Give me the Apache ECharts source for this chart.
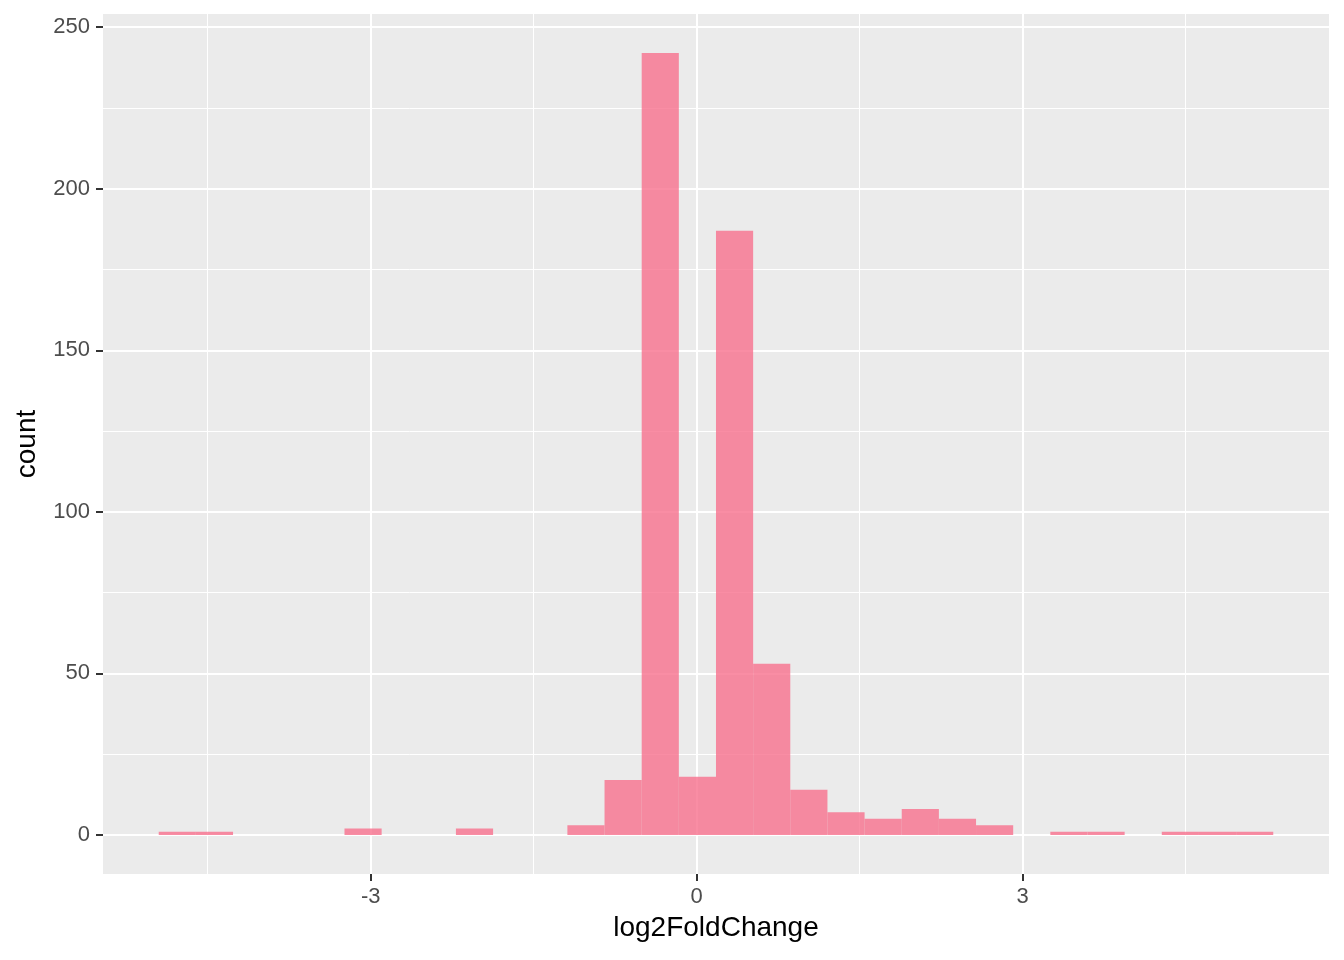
<!DOCTYPE html>
<html>
<head>
<meta charset="utf-8">
<script src="https://cdn.jsdelivr.net/npm/echarts@6/dist/echarts.min.js"></script>
<style>html,body{margin:0;padding:0;background:#fff}#c{width:1344px;height:960px}</style>
</head>
<body>
<div id="c"></div>
<script>
// Histogram of log2FoldChange, 30 bins
const binStart = -4.951;
const binWidth = 0.34196;
const counts = [1, 1, 0, 0, 0, 2, 0, 0, 2, 0, 0, 3, 17, 242, 18, 187, 53, 14, 7, 5, 8, 5, 3, 0, 1, 1, 0, 1, 1, 1];
const xMajorTicks = [-3, 0, 3];
const xMinorTicks = [-4.5, -1.5, 1.5, 4.5];
const yMajorTicks = [0, 50, 100, 150, 200, 250];
const yMinorTicks = [25, 75, 125, 175, 225];
const xRange = [-5.464, 5.821];
const yRange = [-12.1, 254.1];

const bins = counts.map((c, i) => [binStart + i * binWidth, binStart + (i + 1) * binWidth, c]);

const font = '"Liberation Sans", Arial, Helvetica, sans-serif';
const chart = echarts.init(document.getElementById('c'), null, {renderer: 'canvas'});

function xAxisDef(major) {
  return {
    type: 'value', min: xRange[0], max: xRange[1], position: 'bottom',
    axisLine: {show: false, onZero: false},
    axisTick: {show: major, length: 7, lineStyle: {color: '#333333', width: 2}, customValues: major ? xMajorTicks : xMinorTicks},
    axisLabel: {show: major, customValues: major ? xMajorTicks : xMinorTicks, color: '#4D4D4D', fontSize: 22, fontFamily: font, margin: 12},
    splitLine: {show: true, lineStyle: {color: '#FFFFFF', width: major ? 2 : 1}},
    name: major ? 'log2FoldChange' : '', nameLocation: 'middle', nameGap: 40,
    nameTextStyle: {color: '#000000', fontSize: 28, fontFamily: font}
  };
}
function yAxisDef(major) {
  return {
    type: 'value', min: yRange[0], max: yRange[1], position: 'left',
    axisLine: {show: false, onZero: false},
    axisTick: {show: major, length: 7, lineStyle: {color: '#333333', width: 2}, customValues: major ? yMajorTicks : yMinorTicks},
    axisLabel: {show: major, customValues: major ? yMajorTicks : yMinorTicks, color: '#4D4D4D', fontSize: 22, fontFamily: font, margin: 13},
    splitLine: {show: true, lineStyle: {color: '#FFFFFF', width: major ? 2 : 1}},
    name: major ? 'count' : '', nameLocation: 'middle', nameGap: 62, nameRotate: 90,
    nameTextStyle: {color: '#000000', fontSize: 28, fontFamily: font}
  };
}

chart.setOption({
  animation: false,
  backgroundColor: '#FFFFFF',
  grid: {left: 103, right: 15, top: 14, bottom: 86, show: true, backgroundColor: '#EBEBEB', borderWidth: 0},
  xAxis: [xAxisDef(true), xAxisDef(false)],
  yAxis: [yAxisDef(true), yAxisDef(false)],
  series: [{
    type: 'custom',
    xAxisIndex: 0, yAxisIndex: 0,
    data: bins,
    encode: {x: [0, 1], y: 2},
    renderItem: function (params, api) {
      const x0 = api.value(0), x1 = api.value(1), c = api.value(2);
      if (!c) return null;
      const p0 = api.coord([x0, c]);
      const p1 = api.coord([x1, 0]);
      return {
        type: 'rect',
        shape: {x: p0[0], y: p0[1], width: p1[0] - p0[0], height: p1[1] - p0[1]},
        style: {fill: 'rgba(248,112,141,0.8)'}
      };
    }
  }]
});
</script>
</body>
</html>
